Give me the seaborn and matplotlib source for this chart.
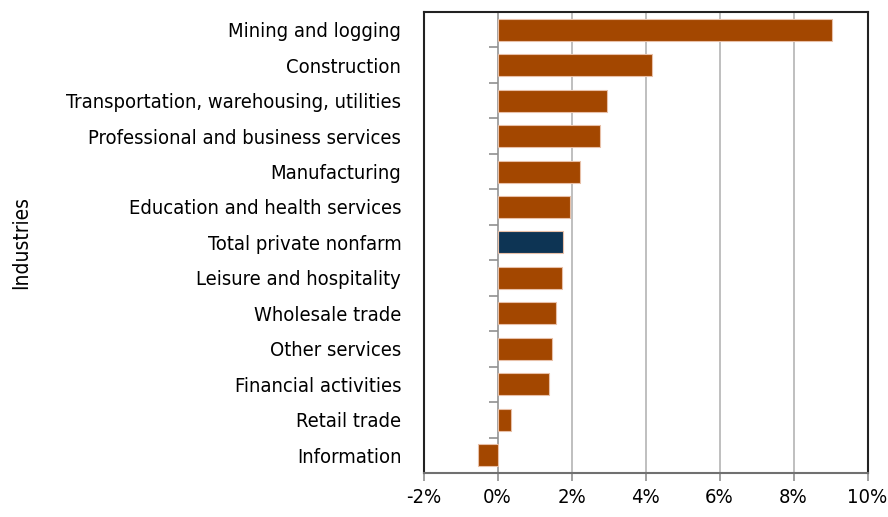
import numpy as np
import pandas as pd
import seaborn as sns
import matplotlib.pyplot as plt
from matplotlib.ticker import FuncFormatter

industries = [
    "Mining and logging",
    "Construction",
    "Transportation, warehousing, utilities",
    "Professional and business services",
    "Manufacturing",
    "Education and health services",
    "Total private nonfarm",
    "Leisure and hospitality",
    "Wholesale trade",
    "Other services",
    "Financial activities",
    "Retail trade",
    "Information",
]
growth = [9.05, 4.18, 2.97, 2.78, 2.23, 1.95, 1.76, 1.75, 1.59, 1.46, 1.40, 0.36, -0.53]

ORANGE = "#A34700"
NAVY = "#0D3454"
colors = [NAVY if name == "Total private nonfarm" else ORANGE for name in industries]

df = pd.DataFrame({"industry": industries, "growth": growth})

sns.set_theme(style="white")
# narrow look, closest installed match to the original condensed font
plt.rcParams["font.family"] = ["DejaVu Sans"]
plt.rcParams["font.stretch"] = "condensed"

fig, ax = plt.subplots(figsize=(8.88, 5.17), dpi=100)
sns.barplot(data=df, x="growth", y="industry", hue="industry", palette=colors,
            legend=False, width=0.62, edgecolor="#e8c0a8", linewidth=0.8,
            saturation=1, zorder=3, ax=ax)

ax.set_xlim(-2, 10)
ax.set_ylim(len(industries) - 0.5, -0.5)
ax.set_xticks(np.arange(-2, 11, 2))
ax.xaxis.set_major_formatter(FuncFormatter(lambda v, _: f"{v:.0f}%"))
ax.grid(axis="x", color="#b4b4b4", linewidth=1.2, zorder=0)

# zero line with small ticks between categories
ax.axvline(0, color="#a0a0a0", linewidth=1.2, zorder=2)
bounds = np.arange(len(industries)) - 0.5
ax.hlines(bounds, -0.22, 0, color="#909090", linewidth=1.2, zorder=2)

for side in ["left", "top", "right"]:
    ax.spines[side].set_color("#222222")
    ax.spines[side].set_linewidth(1.5)
ax.spines["bottom"].set_color("#707070")
ax.spines["bottom"].set_linewidth(1.5)

ax.tick_params(axis="x", bottom=True, length=6, width=1.2, color="#909090",
               labelsize=14.5, labelcolor="black", pad=5)
ax.tick_params(axis="y", left=False, length=0, labelsize=14.5,
               labelcolor="black", pad=16)
ax.set_xlabel("")
ax.set_ylabel("Industries", fontsize=15, color="black")
ax.yaxis.set_label_coords(-0.885, 0.5)

fig.subplots_adjust(left=0.477, right=0.977, top=0.977, bottom=0.085)
fig.savefig("out.png", dpi=100)
